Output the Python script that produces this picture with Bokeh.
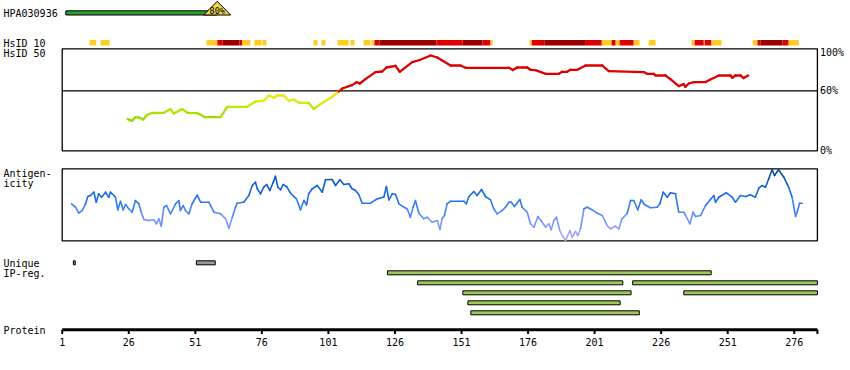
from bokeh.plotting import figure
from bokeh.models import Range1d
from bokeh.core.properties import value
from bokeh.embed import file_html
from bokeh.resources import INLINE

# ------------------------------------------------------------------ data
antibody_name = "HPA030936"
antibody_identity = 80            # percent
protein_end = 284.7               # last residue edge of the protein axis
tick_pos = [1, 26, 51, 76, 101, 126, 151, 176, 201, 226, 251, 276]
tick_labels = [str(t) for t in tick_pos]
pct_ticks = [100, 60, 0]
pct_labels = ["100%", "60%", "0%"]

# HsID 10 identity segments: start, end, level (1 = low, 2 = mid, 3 = high)
hs10_start = [11.3, 15.4, 55.2, 59.3, 61.2, 67.6, 68.7, 73.2, 76.2, 95.4, 98.4, 104.4, 109.3,
              114.2, 117.2, 118.3, 120.2, 141.6, 151.4, 158.9, 161.9, 176.6, 177.4, 182.3,
              197.7, 203.7, 207.4, 208.9, 210.4, 215.7, 221.3, 237.4, 238.6, 242.3, 244.9,
              260.4, 262.2, 263.4, 271.6, 273.9]
hs10_end = [13.8, 18.8, 59.3, 61.2, 67.6, 68.7, 71.7, 75.9, 77.7, 96.9, 99.9, 108.6, 110.8,
            116.8, 118.3, 120.2, 141.6, 151.4, 158.9, 161.9, 162.7, 177.4, 182.3, 197.7,
            203.7, 207.4, 208.9, 210.4, 215.7, 217.9, 223.9, 238.6, 242.0, 244.9, 248.7,
            262.2, 263.4, 271.6, 273.9, 277.7]
hs10_level = [1, 1, 1, 2, 3, 2, 1, 1, 1, 1, 1, 1, 1,
              1, 1, 2, 3, 2, 3, 2, 1, 1, 2, 3,
              2, 1, 2, 1, 2, 1, 1, 1, 2, 2, 1,
              1, 2, 3, 2, 1]

# HsID 50 identity curve (percent)
hs50_pos = [25.6, 27.3, 28.5, 29.8, 31.4, 32.9, 34.8, 39.2, 41.7, 42.9,
            46.1, 48.0, 51.7, 54.5, 60.5, 63.0, 70.5, 73.6, 76.7, 78.6,
            80.5, 81.8, 84.2, 86.1, 88.0, 89.9, 93.6, 95.5, 98.0, 101.8,
            104.9, 106.2, 109.9, 111.6, 112.8, 114.9, 118.7, 121.2, 122.8, 126.2,
            127.8, 132.5, 135.3, 139.4, 141.9, 146.9, 150.6, 152.5, 168.8, 170.3,
            171.9, 175.7, 176.9, 178.8, 182.6, 187.6, 188.8, 190.7, 191.9, 194.5,
            197.6, 203.9, 206.3, 219.5, 220.7, 223.2, 223.9, 227.6, 229.5, 232.6,
            234.5, 235.1, 236.4, 238.3, 242.7, 244.5, 247.7, 252.1, 252.7, 253.9,
            255.8, 257.0, 258.7]
hs50_val = [31.7, 30.0, 33.7, 33.3, 31.3, 36.0, 38.0, 38.0, 41.7, 37.3,
            41.7, 38.0, 37.7, 33.7, 33.7, 44.0, 44.0, 49.3, 50.0, 55.3,
            53.0, 55.3, 55.3, 50.0, 51.3, 48.0, 48.0, 41.7, 46.7, 52.7,
            59.3, 62.3, 65.7, 68.7, 67.3, 71.7, 78.7, 79.3, 83.3, 85.0,
            79.0, 88.7, 90.8, 95.3, 93.3, 85.3, 85.3, 83.0, 83.0, 80.7,
            83.3, 83.3, 81.0, 80.7, 77.0, 77.0, 79.0, 79.0, 81.0, 81.0,
            85.3, 85.3, 79.7, 78.7, 77.0, 77.0, 75.3, 75.3, 71.7, 64.7,
            66.7, 64.0, 67.3, 68.7, 68.7, 71.3, 75.3, 75.3, 73.0, 75.3,
            75.3, 72.7, 75.3]

# Antigenicity profile (relative units, 0..72 = panel height)
ant_pos = [4.5, 6.0, 7.2, 8.5, 9.8, 10.6, 11.6, 12.9, 13.8, 14.7,
           15.8, 17.3, 18.5, 19.1, 20.4, 21.0, 21.9, 22.9, 23.9, 24.8,
           26.0, 27.3, 28.5, 29.8, 30.7, 31.7, 33.5, 35.4, 36.4, 37.3,
           38.2, 39.2, 40.2, 41.7, 43.6, 44.8, 45.4, 46.5, 47.3, 48.6,
           49.8, 51.7, 53.0, 56.1, 58.0, 60.5, 62.4, 63.6, 64.9, 66.1,
           66.7, 69.2, 71.1, 72.4, 73.6, 74.3, 75.5, 76.7, 77.8, 79.0,
           80.3, 81.1, 82.0, 83.0, 84.0, 85.5, 86.5, 88.0, 89.0, 90.5,
           91.8, 92.8, 93.6, 94.9, 96.8, 98.7, 99.9, 102.4, 103.7, 105.3,
           106.8, 108.7, 109.9, 111.2, 112.4, 113.7, 116.8, 118.7, 120.6, 121.8,
           122.8, 123.7, 125.0, 126.2, 127.5, 129.3, 130.6, 131.8, 132.8, 133.7,
           135.0, 136.8, 138.1, 140.0, 141.9, 142.9, 143.7, 144.6, 145.6, 146.9,
           151.9, 152.8, 153.8, 155.6, 156.9, 158.5, 160.0, 161.9, 163.1, 164.4,
           166.3, 167.5, 168.8, 169.7, 170.9, 172.9, 173.8, 175.7, 176.9, 178.2,
           179.7, 181.3, 182.6, 183.8, 184.7, 185.7, 186.7, 187.9, 188.8, 190.1,
           191.7, 192.6, 193.8, 194.7, 195.7, 197.0, 198.2, 200.1, 202.0, 203.9,
           205.7, 207.0, 208.8, 210.1, 211.3, 213.2, 214.5, 215.7, 217.2, 218.5,
           219.7, 222.0, 224.5, 225.5, 226.8, 228.3, 229.5, 231.4, 232.6, 234.5,
           235.2, 236.8, 238.0, 238.9, 240.8, 242.7, 244.5, 245.8, 246.4, 247.7,
           250.5, 252.7, 253.9, 255.8, 257.7, 259.5, 261.4, 262.7, 263.9, 265.2,
           266.4, 267.7, 268.6, 270.1, 272.1, 273.3, 273.9, 275.2, 276.5, 277.1,
           278.0, 279.0]
ant_val = [37.0, 33.6, 27.6, 30.3, 37.0, 44.3, 45.3, 48.6, 38.6, 47.0,
           43.6, 48.6, 43.6, 48.6, 45.3, 43.6, 31.0, 39.6, 31.0, 36.3,
           32.0, 28.6, 40.3, 37.0, 28.6, 21.3, 20.3, 21.0, 17.0, 22.0,
           14.6, 33.6, 35.3, 27.0, 37.0, 40.3, 30.3, 35.3, 30.3, 27.0,
           37.0, 45.6, 38.6, 38.6, 28.6, 27.0, 22.0, 12.6, 23.6, 33.6,
           37.6, 38.6, 45.3, 55.3, 58.6, 52.0, 47.0, 53.6, 56.3, 50.3,
           58.6, 64.6, 53.6, 51.0, 56.3, 53.6, 48.6, 44.3, 42.0, 31.0,
           40.3, 36.0, 47.0, 52.0, 55.3, 48.6, 61.0, 61.3, 55.3, 61.0,
           56.3, 57.0, 52.0, 50.3, 46.3, 37.6, 37.6, 41.0, 43.0, 43.6,
           54.3, 41.0, 47.0, 46.3, 37.0, 33.6, 32.0, 23.6, 33.6, 40.3,
           27.6, 22.0, 23.6, 18.6, 20.3, 11.3, 22.0, 25.3, 37.0, 39.6,
           39.6, 37.0, 44.3, 49.3, 45.3, 51.3, 44.3, 41.0, 32.0, 27.0,
           30.3, 33.6, 38.6, 38.6, 34.3, 41.3, 33.6, 28.6, 17.0, 13.6,
           24.3, 18.6, 13.6, 17.0, 11.0, 20.3, 23.6, 10.3, 5.3, 0.3,
           10.3, 3.6, 9.3, 5.3, 12.0, 32.0, 33.6, 31.0, 27.6, 25.3,
           15.3, 12.0, 14.6, 12.0, 22.0, 27.0, 40.3, 40.3, 31.0, 41.0,
           36.3, 33.0, 33.6, 37.0, 48.6, 43.6, 48.0, 47.0, 28.6, 28.6,
           25.3, 17.0, 28.6, 24.3, 25.3, 35.3, 41.3, 45.3, 38.6, 43.6,
           48.0, 43.6, 38.6, 45.3, 44.3, 46.0, 43.6, 52.6, 55.3, 53.6,
           62.0, 71.0, 65.3, 71.0, 63.6, 57.0, 53.6, 43.6, 24.3, 28.6,
           37.6, 37.6]
assert len(hs50_pos) == len(hs50_val) and len(ant_pos) == len(ant_val)

# Unique regions
unique_start = [5.2, 51.4]
unique_end = [5.9, 58.5]

# Interpro regions: start, end, lane
ip_start = [123.2, 134.5, 215.3, 151.5, 234.5, 153.4, 154.5]
ip_end = [244.8, 211.6, 284.7, 214.7, 284.7, 210.6, 217.8]
ip_lane = [1, 2, 2, 3, 3, 4, 5]

# ------------------------------------------------------------------ layout
W, H = 848, 366
OX, OY = 0, 0                      # page offset of the canvas
RES1_PX, PX_PER_RES = 61.7, 2.662  # residue axis
PCT0_PX, PX_PER_PCT = 65.3, 1.8925
LANE0_PY, PX_PER_LANE = 262.3, 10.0
HS0_PY = 150.3                     # 0% of HsID 50 panel (1px per %)
ANT0_PY = 240.3                    # 0 of antigenicity panel (1px per unit)
FONT = value("DejaVu Sans Mono")


def res_at(px):
    return 1 + (px - RES1_PX) / PX_PER_RES


def lane_at(py):
    return (py - LANE0_PY) / PX_PER_LANE


def hexrgb(h):
    return tuple(int(h[i:i + 2], 16) for i in (1, 3, 5))


def ramp(stops, v):
    if v <= stops[0][0]:
        return stops[0][1]
    for (v0, c0), (v1, c1) in zip(stops[:-1], stops[1:]):
        if v <= v1:
            t = (v - v0) / (v1 - v0)
            a, b = hexrgb(c0), hexrgb(c1)
            return "#%02x%02x%02x" % tuple(int(round(a[i] + (b[i] - a[i]) * t)) for i in range(3))
    return stops[-1][1]


p = figure(width=W, height=H, output_backend="svg", toolbar_location=None,
           x_range=Range1d(res_at(OX), res_at(OX + W)),
           y_range=Range1d(lane_at(OY + H), lane_at(OY)),
           x_axis_location=None, y_axis_location=None, min_border=0,
           outline_line_color=None, background_fill_color="white",
           border_fill_color="white")
p.grid.visible = False
p.extra_x_ranges = {"pct": Range1d((OX - PCT0_PX) / PX_PER_PCT, (OX + W - PCT0_PX) / PX_PER_PCT)}
p.extra_y_ranges = {"hs": Range1d(HS0_PY - (OY + H), HS0_PY - OY),
                    "ant": Range1d(ANT0_PY - (OY + H), ANT0_PY - OY)}


def label(px, py, txt, size="10px", align="left"):
    p.text(x=[res_at(px)], y=[lane_at(py)], text=[txt], text_font=FONT,
           text_font_size=size, text_align=align, text_baseline="middle",
           text_color="black")


# ---- antibody row
p.quad(left=[0], right=[antibody_identity], bottom=[lane_at(14.5)], top=[lane_at(10.3)],
       x_range_name="pct", fill_color="#2E9E2E", line_color="black", line_width=1)
half = 13.5 / PX_PER_PCT
p.patch(x=[antibody_identity - half, antibody_identity + half, antibody_identity],
        y=[lane_at(14.5), lane_at(14.5), lane_at(0.8)], x_range_name="pct",
        fill_color="#F0D64A", line_color="black", line_width=1)
p.text(x=[antibody_identity], y=[lane_at(10.2)], text=[f"{antibody_identity}%"],
       x_range_name="pct", text_font=FONT, text_font_size="8.5px", text_align="center",
       text_baseline="middle", text_color="black")
label(3, 12.5, antibody_name)

# ---- HsID 10
lvl_col = {1: "#FFCC22", 2: "#DD0000", 3: "#990000"}
p.quad(left=hs10_start, right=hs10_end, bottom=lane_at(45), top=lane_at(39.5),
       fill_color=[lvl_col[l] for l in hs10_level], line_color=None)
label(3, 42.5, "HsID 10")
label(3, 52.5, "HsID 50")

# ---- HsID 50 panel
p.quad(left=[1], right=[protein_end], bottom=[0], top=[102], y_range_name="hs",
       fill_color=None, line_color="black", line_width=1.3)
p.segment(x0=[1], y0=[60], x1=[protein_end], y1=[60], y_range_name="hs",
          line_color="black", line_width=1.2)
hs_stops = [(30, "#8CDA00"), (44, "#BCEA00"), (52, "#E8EC10"), (59.9, "#FFD400")]
hs_cols = []
for a, b in zip(hs50_val[:-1], hs50_val[1:]):
    m = (a + b) / 2
    hs_cols.append("#DD0000" if m >= 60 else ramp(hs_stops, m))
p.segment(x0=hs50_pos[:-1], y0=hs50_val[:-1], x1=hs50_pos[1:], y1=hs50_val[1:],
          y_range_name="hs", line_color=hs_cols, line_width=2.3, line_cap="round")
for t, lab in zip(pct_ticks, pct_labels):
    p.text(x=[res_at(819.5)], y=[t], y_offset=(2 if t == 100 else 0), text=[lab],
           y_range_name="hs", text_font=FONT, text_font_size="10px", text_align="left",
           text_baseline="middle", text_color="black")

# ---- Antigenicity panel
p.quad(left=[1], right=[protein_end], bottom=[0], top=[72], y_range_name="ant",
       fill_color=None, line_color="black", line_width=1.3)
ant_stops = [(0, "#B4A8FF"), (14, "#8C9CFF"), (28, "#5288FF"), (42, "#1E70EA"),
             (58, "#0E5CCC"), (72, "#08458F")]
ant_cols = [ramp(ant_stops, (a + b) / 2) for a, b in zip(ant_val[:-1], ant_val[1:])]
p.segment(x0=ant_pos[:-1], y0=ant_val[:-1], x1=ant_pos[1:], y1=ant_val[1:],
          y_range_name="ant", line_color=ant_cols, line_width=1.6, line_cap="round")
label(3, 172.5, "Antigen-")
label(3, 183, "icity")

# ---- Unique / IP regions
p.quad(left=unique_start, right=unique_end, bottom=[0.2] * len(unique_start),
       top=[-0.2] * len(unique_start), fill_color="#999999", line_color="black", line_width=1)
p.quad(left=ip_start, right=ip_end, bottom=[l + 0.2 for l in ip_lane],
       top=[l - 0.2 for l in ip_lane], fill_color="#9DC85A", line_color="black", line_width=1)
label(3, 262.5, "Unique")
label(3, 272.5, "IP-reg.")

# ---- Protein axis
ax_y = lane_at(329.2)
p.segment(x0=[1], y0=[ax_y], x1=[protein_end], y1=[ax_y], line_color="black", line_width=3)
p.segment(x0=tick_pos + [protein_end], y0=[ax_y] * (len(tick_pos) + 1),
          x1=tick_pos + [protein_end], y1=[lane_at(333.5)] * (len(tick_pos) + 1),
          line_color="black", line_width=2)
p.text(x=tick_pos, y=[lane_at(341.7)] * len(tick_pos), text=tick_labels, text_font=FONT,
       text_font_size="10px", text_align="center", text_baseline="middle", text_color="black")
label(3, 329.5, "Protein")

open("out.html", "w").write(file_html(p, INLINE))
